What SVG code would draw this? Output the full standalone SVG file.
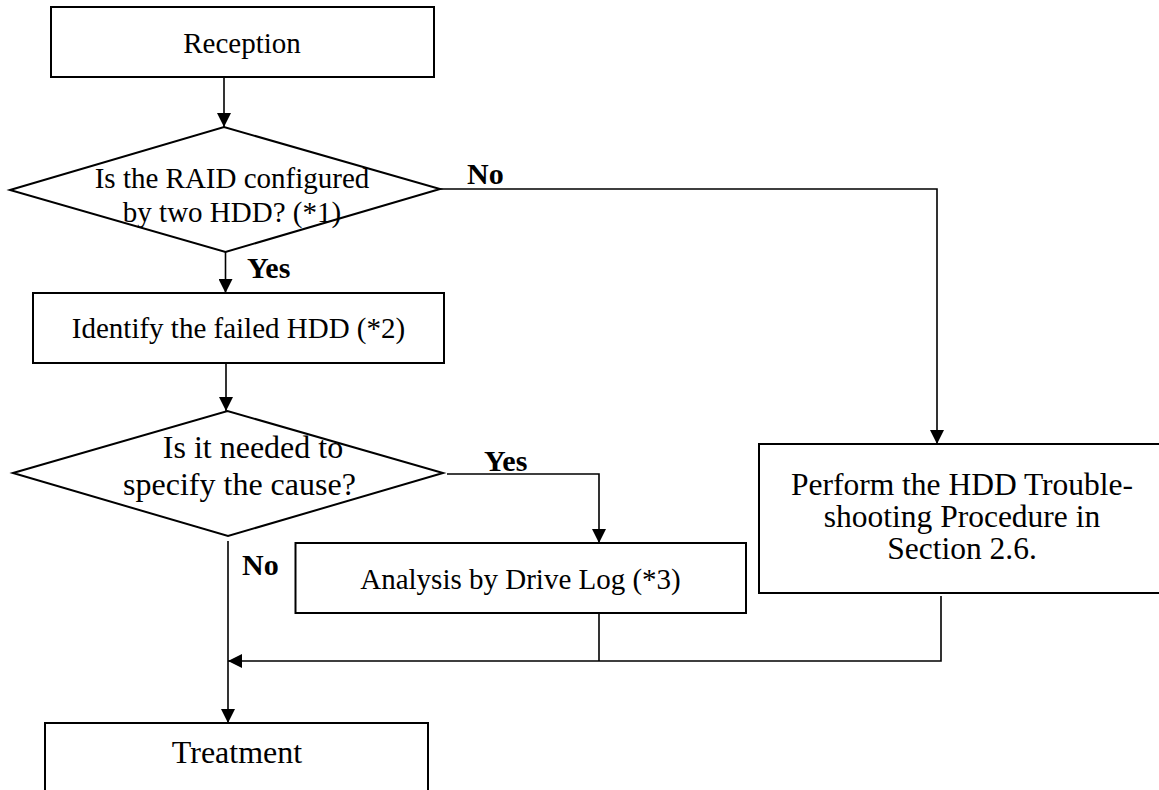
<svg xmlns="http://www.w3.org/2000/svg" width="1159" height="790" viewBox="0 0 1159 790">
<style>
.box{fill:#fff;stroke:#000;stroke-width:2}
.ln{fill:none;stroke:#000;stroke-width:1.6}
text{font-family:'Liberation Serif','Times New Roman','DejaVu Serif',serif;fill:#000}
.m{text-anchor:middle}
.b{font-weight:bold}
</style>
<defs>
<marker id="ah" viewBox="0 0 14 14" refX="14" refY="7" markerWidth="14" markerHeight="14" markerUnits="userSpaceOnUse" orient="auto">
<path d="M0,0 L14,7 L0,14 z" fill="#000"/>
</marker>
</defs>
<rect width="1159" height="790" fill="#fff"/>
<g id="connectors">
<path class="ln" d="M224,77 V127" marker-end="url(#ah)"/>
<path class="ln" d="M225.5,252 V293" marker-end="url(#ah)"/>
<path class="ln" d="M440,189 H937 V444" marker-end="url(#ah)"/>
<path class="ln" d="M226,363 V411" marker-end="url(#ah)"/>
<path class="ln" d="M447,474 H599 V543" marker-end="url(#ah)"/>
<path class="ln" d="M228,541 V723" marker-end="url(#ah)"/>
<path class="ln" d="M599,613 V661"/>
<path class="ln" d="M941,596 V661 H228" marker-end="url(#ah)"/>
<text class="b" x="467" y="184" font-size="30">No</text>
<text class="b" x="247" y="278" font-size="30">Yes</text>
<text class="b" x="484" y="471" font-size="30">Yes</text>
<text class="b" x="242" y="575" font-size="30">No</text>
</g>
<g id="reception">
<rect class="box" x="51" y="7" width="383" height="70"/>
<text class="m" x="242" y="53" font-size="29">Reception</text>
</g>
<g id="decision-raid">
<polygon class="box" points="10,190 224,127 440,189 225.5,252"/>
<text class="m" x="232" y="188" font-size="29">Is the RAID configured</text>
<text class="m" x="232" y="222" font-size="29">by two HDD? (*1)</text>
</g>
<g id="identify">
<rect class="box" x="33" y="293" width="411" height="70"/>
<text class="m" x="238.5" y="338" font-size="29">Identify the failed HDD (*2)</text>
</g>
<g id="decision-cause">
<polygon class="box" points="13,473 227.5,411 443,473 228,536"/>
<text class="m" x="253" y="458" font-size="32">Is it needed to</text>
<text class="m" x="239.5" y="495" font-size="32">specify the cause?</text>
</g>
<g id="analysis">
<rect class="box" x="295.5" y="543" width="450.5" height="70"/>
<text class="m" x="520.5" y="589" font-size="29">Analysis by Drive Log (*3)</text>
</g>
<g id="perform">
<rect class="box" x="759" y="444" width="420" height="149"/>
<text class="m" x="962" y="495" font-size="31.5">Perform the HDD Trouble-</text>
<text class="m" x="962" y="527" font-size="31.5">shooting Procedure in</text>
<text class="m" x="962" y="559" font-size="31.5">Section 2.6.</text>
</g>
<g id="treatment">
<rect class="box" x="45" y="723" width="383" height="80"/>
<text class="m" x="237" y="763" font-size="32">Treatment</text>
</g>
</svg>
